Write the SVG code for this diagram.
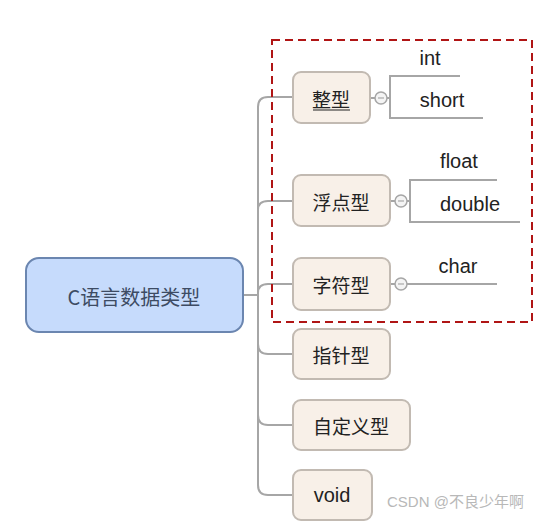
<svg xmlns="http://www.w3.org/2000/svg" width="539" height="526" viewBox="0 0 539 526">
<style>
.ln{fill:none;stroke:#a6a6a6;stroke-width:2}
.node{fill:#f8f0e8;stroke:#c2bab2;stroke-width:2}
.t{font-family:"Noto Sans CJK SC","Liberation Sans",sans-serif;font-size:19px;fill:#222;text-anchor:middle;dominant-baseline:central}
.e{font-family:"Liberation Sans","Noto Sans CJK SC",sans-serif;font-size:20px;fill:#222;text-anchor:middle;dominant-baseline:central}
.col{fill:#f4f4f4;stroke:#a6a6a6;stroke-width:1.5}
</style>
<rect width="539" height="526" fill="#ffffff"/>
<g id="connectors">
  <path class="ln" d="M243 295 H258"/>
  <path class="ln" d="M258 485 V107 Q258 97 268 97 H293"/>
  <path class="ln" d="M258 210 Q258 201 268 201 H293"/>
  <path class="ln" d="M258 293 Q258 284 268 284 H293"/>
  <path class="ln" d="M258 344 Q258 354 268 354 H293"/>
  <path class="ln" d="M258 415 Q258 425 268 425 H293"/>
  <path class="ln" d="M258 485 Q258 495 268 495 H293"/>
  <path class="ln" d="M370 98 H375"/>
  <path class="ln" d="M387 98 H390 M460 76 H390 V118 H483"/>
  <path class="ln" d="M390 201 H395"/>
  <path class="ln" d="M407 201 H410 M497 180 H410 V222 H520"/>
  <path class="ln" d="M390 284 H395"/>
  <path class="ln" d="M407 284 H497"/>
  <circle class="col" cx="381" cy="98" r="6"/>
  <line x1="378" y1="98" x2="384" y2="98" stroke="#999" stroke-width="1"/>
  <circle class="col" cx="401" cy="201" r="6"/>
  <line x1="398" y1="201" x2="404" y2="201" stroke="#999" stroke-width="1"/>
  <circle class="col" cx="401" cy="284" r="6"/>
  <line x1="398" y1="284" x2="404" y2="284" stroke="#999" stroke-width="1"/>
</g>
<rect x="272" y="40" width="260" height="282" fill="none" stroke="#b01515" stroke-width="2" stroke-dasharray="8 5"/>
<g id="root">
  <rect x="26" y="258" width="217" height="74" rx="13" fill="#c6dbfc" stroke="#6b86b0" stroke-width="2"/>
  <text class="t" x="134" y="296" style="fill:#3d4b63;font-size:20px">C语言数据类型</text>
</g>
<g id="n-int">
  <rect class="node" x="293" y="72" width="77" height="51" rx="8"/>
  <text class="t" x="331" y="98">整型</text>
  <line x1="313" y1="110" x2="350" y2="110" stroke="#222" stroke-width="1"/>
</g>
<g id="n-float">
  <rect class="node" x="293" y="175" width="97" height="51" rx="8"/>
  <text class="t" x="341" y="201">浮点型</text>
</g>
<g id="n-char">
  <rect class="node" x="293" y="258" width="97" height="52" rx="8"/>
  <text class="t" x="341" y="284">字符型</text>
</g>
<g id="n-ptr">
  <rect class="node" x="293" y="329" width="97" height="50" rx="8"/>
  <text class="t" x="341" y="354">指针型</text>
</g>
<g id="n-custom">
  <rect class="node" x="293" y="400" width="117" height="50" rx="8"/>
  <text class="t" x="351" y="425">自定义型</text>
</g>
<g id="n-void">
  <rect class="node" x="293" y="470" width="79" height="50" rx="8"/>
  <text class="e" x="332" y="495">void</text>
</g>
<g id="leaves">
  <text class="e" x="430" y="58">int</text>
  <text class="e" x="442" y="100">short</text>
  <text class="e" x="459" y="161">float</text>
  <text class="e" x="470" y="204">double</text>
  <text class="e" x="458" y="266">char</text>
</g>
<text x="387" y="507" font-family="Liberation Sans,'Noto Sans CJK SC',sans-serif" font-size="15" fill="#b8b8b8">CSDN @不良少年啊</text>
</svg>
